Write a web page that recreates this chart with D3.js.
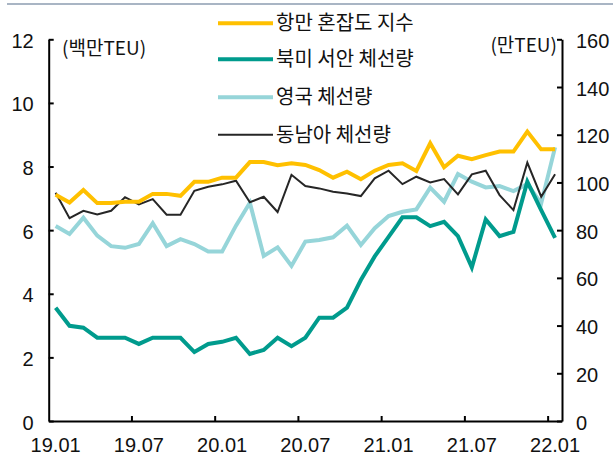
<!DOCTYPE html>
<html>
<head>
<meta charset="utf-8">
<script src="https://cdn.jsdelivr.net/npm/d3@7"></script>
<style>
  body { margin: 0; background: #fff; }
  svg { display: block; font-family: "Noto Sans CJK KR", "Noto Sans", sans-serif; }
  .axis path, .axis line { stroke: #000; stroke-width: 2px; }
  .axis text { font-size: 20px; fill: #111; }
</style>
</head>
<body>
<div id="chart"></div>
<script>
// months 19.01 ~ 22.01
var months = [
    '19.01', '19.02', '19.03', '19.04', '19.05', '19.06', '19.07', '19.08', '19.09', '19.10', '19.11', '19.12',
    '20.01', '20.02', '20.03', '20.04', '20.05', '20.06', '20.07', '20.08', '20.09', '20.10', '20.11', '20.12',
    '21.01', '21.02', '21.03', '21.04', '21.05', '21.06', '21.07', '21.08', '21.09', '21.10', '21.11', '21.12',
    '22.01'
];
var monthLabels = ['19.01', '19.07', '20.01', '20.07', '21.01', '21.07', '22.01'];

// 항만 혼잡도 지수 (left axis, 백만TEU)
var congestion = [
    7.11, 6.87, 7.26, 6.85, 6.85, 6.89, 6.89, 7.14, 7.14, 7.08, 7.52, 7.52,
    7.65, 7.65, 8.14, 8.14, 8.04, 8.10, 8.05, 7.89, 7.65, 7.84, 7.60, 7.87,
    8.05, 8.10, 7.86, 8.73, 7.98, 8.34, 8.23, 8.36, 8.47, 8.47, 9.10, 8.54,
    8.54
];
// 북미 서안 체선량 (right axis, 만TEU)
var naWest = [
    47.5, 39.9, 39.1, 34.9, 34.9, 34.9, 32.3, 34.9, 34.9, 34.9, 28.9, 32.3,
    33.2, 34.9, 28.1, 29.8, 34.9, 31.4, 34.9, 43.3, 43.3, 47.5, 59.1, 69.0,
    77.2, 85.4, 85.4, 81.7, 83.5, 77.5, 64.4, 84.5, 77.5, 79.3, 100.3, 88.4,
    76.8
];
// 영국 체선량
var uk = [
    81.7, 78.4, 85.2, 77.7, 73.3, 72.6, 74.2, 82.9, 73.3, 76.2, 74.2, 71.0,
    71.0, 81.9, 91.5, 69.2, 72.8, 65.0, 75.2, 75.9, 77.0, 81.9, 73.8, 80.8,
    85.9, 87.7, 88.7, 97.8, 91.9, 103.5, 100.3, 97.9, 98.5, 96.4, 99.3, 91.2,
    114.7
];
// 동남아 체선량
var seAsia = [
    95.7, 85.0, 88.1, 86.6, 88.1, 93.8, 90.8, 93.0, 86.5, 86.5, 96.5, 98.2,
    99.2, 100.7, 91.7, 94.0, 87.6, 103.2, 98.5, 97.5, 96.1, 95.4, 94.3, 101.7,
    104.9, 99.3, 102.4, 100.0, 101.4, 95.0, 103.4, 104.9, 94.7, 88.4, 108.3, 94.0,
    103.4
];

var leftTicks = [0, 2, 4, 6, 8, 10, 12];
var rightTicks = [0, 20, 40, 60, 80, 100, 120, 140, 160];

var series = [
    { name: '항만 혼잡도 지수', values: congestion, axis: 'left', color: '#FFC000', width: 4 },
    { name: '북미 서안 체선량', values: naWest, axis: 'right', color: '#009B8D', width: 4 },
    { name: '영국 체선량', values: uk, axis: 'right', color: '#96D5D9', width: 4 },
    { name: '동남아 체선량', values: seAsia, axis: 'right', color: '#262626', width: 2 }
];

var width = 613;
var height = 454;
var plot = { left: 48.7, right: 562, top: 39.3, bottom: 421 };

var svg = d3.select('#chart').append('svg')
    .attr('width', width)
    .attr('height', height);

// top rule
svg.append('line')
    .attr('x1', 7).attr('x2', width)
    .attr('y1', 4).attr('y2', 4)
    .attr('stroke', '#8D9CB0')
    .attr('stroke-width', 1.5);

var x = d3.scaleBand().domain(months).range([plot.left, plot.right]).padding(0);
var yLeft = d3.scaleLinear().domain([0, 12]).range([plot.bottom, plot.top]);
var yRight = d3.scaleLinear().domain([0, 160]).range([plot.bottom, plot.top]);

var cx = function(i) {
    return x(months[i]) + x.bandwidth() / 2;
};

// lines (black last on top? keep drawing order: light, black, yellow, teal)
var order = [2, 3, 0, 1];
order.forEach(function(k) {
    var s = series[k];
    var scale = s.axis === 'left' ? yLeft : yRight;
    var line = d3.line()
        .x(function(d, i) { return cx(i); })
        .y(function(d) { return scale(d); });

    svg.append('path')
        .datum(s.values)
        .attr('fill', 'none')
        .attr('stroke', s.color)
        .attr('stroke-width', s.width)
        .attr('stroke-linejoin', 'miter')
        .attr('d', line);
});

// left axis
svg.append('g')
    .attr('class', 'axis')
    .attr('transform', 'translate(' + plot.left + ',0)')
    .call(d3.axisLeft(yLeft).tickValues(leftTicks).tickSize(-5).tickSizeOuter(0).tickPadding(15))
    .selectAll('text').attr('dy', '0.4em');

// right axis
svg.append('g')
    .attr('class', 'axis')
    .attr('transform', 'translate(' + plot.right + ',0)')
    .call(d3.axisRight(yRight).tickValues(rightTicks).tickSize(-5).tickSizeOuter(0).tickPadding(14))
    .selectAll('text').attr('dy', '0.4em');

// bottom axis: labels centred on month, ticks at month boundaries
var bottom = svg.append('g')
    .attr('class', 'axis')
    .attr('transform', 'translate(0,' + plot.bottom + ')')
    .call(d3.axisBottom(x).tickValues(monthLabels).tickSize(0).tickSizeOuter(0).tickPadding(17));

bottom.selectAll('.tick line').remove();
bottom.selectAll('.bound')
    .data(monthLabels.slice(1))
    .enter().append('line')
    .attr('class', 'bound')
    .attr('x1', function(d) { return x(d); })
    .attr('x2', function(d) { return x(d); })
    .attr('y1', 0)
    .attr('y2', -5);

// axis titles
svg.append('text')
    .attr('x', 62).attr('y', 55)
    .attr('font-size', 19)
    .attr('fill', '#111')
    .text('(백만TEU)');

svg.append('text')
    .attr('x', 557).attr('y', 52)
    .attr('text-anchor', 'end')
    .attr('font-size', 19)
    .attr('fill', '#111')
    .text('(만TEU)');

// legend
var legendY = [23.3, 59.3, 97.3, 134.7];
var legend = svg.append('g').selectAll('g')
    .data(series)
    .enter().append('g')
    .attr('transform', function(d, i) { return 'translate(218,' + legendY[i] + ')'; });

legend.append('line')
    .attr('x1', 0).attr('x2', 55)
    .attr('stroke', function(d) { return d.color; })
    .attr('stroke-width', function(d) { return d.width; });

legend.append('text')
    .attr('x', 58)
    .attr('dy', '0.35em')
    .attr('font-size', 20)
    .attr('fill', '#111')
    .text(function(d) { return d.name; });
</script>
</body>
</html>
